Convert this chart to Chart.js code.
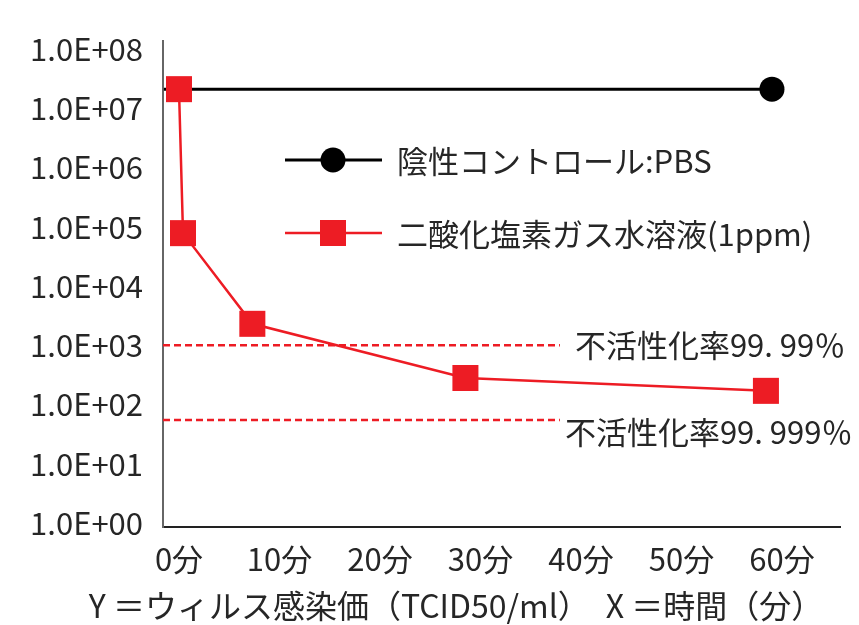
<!DOCTYPE html>
<html>
<head>
<meta charset="utf-8">
<script src="https://cdn.jsdelivr.net/npm/chart.js@4/dist/chart.umd.min.js"></script>
<style>
  body { margin: 0; background: #fff; }
  canvas { display: block; }
</style>
</head>
<body>
<canvas id="chart" width="859" height="625"></canvas>
<script>
// data
const timeTicks = [0, 10, 20, 30, 40, 50, 60];
const valueTicks = [1, 10, 100, 1e3, 1e4, 1e5, 1e6, 1e7, 1e8];

const pbsLabel = '陰性コントロール:PBS';
const pbsTime = [-1.5, 59];
const pbsValue = [2.1e7, 2.1e7];

const clo2Label = '二酸化塩素ガス水溶液(1ppm)';
const clo2Time = [0, 0.4, 7.3, 28.5, 58.4];
const clo2Value = [2.1e7, 7.8e4, 2.3e3, 280, 170];

const thresholdLabels = ['不活性化率99. 99％', '不活性化率99. 999％'];
const thresholdValues = [1000, 55];
const thresholdEnd = 37.9;

const axisTitle = 'Y ＝ウィルス感染価（TCID50/ml）　X ＝時間（分）';

const RED = '#ED1C24';
const TEXT = '#262626';
const FONT = '"Noto Sans CJK JP", "Noto Sans", sans-serif';

const toPoints = (xs, ys) => xs.map((x, i) => ({ x: x, y: ys[i] }));

// dashed threshold lines from the y axis to thresholdEnd
const thresholdSets = thresholdValues.map(v => ({
    data: [{ x: -1.59, y: v }, { x: thresholdEnd, y: v }],
    borderColor: RED,
    borderWidth: 2.5,
    borderDash: [7, 4],
    pointRadius: 0,
    fill: false
}));

// legend, threshold labels and the axis caption drawn on the canvas
const overlay = {
    id: 'overlay',
    afterDraw(chart) {
        const ctx = chart.ctx;
        const x = chart.scales.x;
        const y = chart.scales.y;
        ctx.save();
        ctx.font = '31px ' + FONT;
        ctx.fillStyle = TEXT;
        ctx.textBaseline = 'middle';

        // legend
        const items = [
            { label: pbsLabel, color: '#000', style: 'circle', yPos: 160 },
            { label: clo2Label, color: RED, style: 'rect', yPos: 233 }
        ];
        items.forEach(item => {
            ctx.strokeStyle = item.color;
            ctx.lineWidth = item.style === 'circle' ? 3 : 2.5;
            ctx.beginPath();
            ctx.moveTo(285, item.yPos);
            ctx.lineTo(382, item.yPos);
            ctx.stroke();
            ctx.fillStyle = item.color;
            ctx.beginPath();
            if (item.style === 'circle') {
                ctx.arc(333, item.yPos, 12.5, 0, Math.PI * 2);
            } else {
                ctx.rect(320, item.yPos - 13, 26, 26);
            }
            ctx.fill();
            ctx.fillStyle = TEXT;
            ctx.textAlign = 'left';
            ctx.fillText(item.label, 397, item.yPos + 1);
        });

        // threshold labels
        const endPx = x.getPixelForValue(thresholdEnd);
        ctx.fillText(thresholdLabels[0], endPx + 15, y.getPixelForValue(thresholdValues[0]));
        ctx.fillText(thresholdLabels[1], endPx + 5, y.getPixelForValue(thresholdValues[1]) + 12);

        // caption under the x axis
        ctx.font = '32px ' + FONT;
        ctx.textAlign = 'center';
        ctx.fillText(axisTitle, 456, 606);
        ctx.restore();
    }
};

new Chart(document.getElementById('chart'), {
    type: 'line',
    data: {
        datasets: [
            {
                label: clo2Label,
                data: toPoints(clo2Time, clo2Value),
                borderColor: RED,
                backgroundColor: RED,
                borderWidth: 2.5,
                pointStyle: 'rect',
                pointRadius: 18.4,
                pointBorderWidth: 0,
                fill: false
            },
            {
                label: pbsLabel,
                data: toPoints(pbsTime, pbsValue),
                borderColor: '#000',
                backgroundColor: '#000',
                borderWidth: 3,
                pointStyle: 'circle',
                pointRadius: [0, 12.5],
                pointBorderWidth: 0,
                fill: false
            },
            ...thresholdSets
        ]
    },
    options: {
        responsive: false,
        animation: false,
        events: [],
        layout: { padding: { top: 41, right: 19, left: 0, bottom: 0 } },
        scales: {
            x: {
                type: 'linear',
                min: -1.59,
                max: 65.77,
                afterBuildTicks: scale => { scale.ticks = timeTicks.map(v => ({ value: v })); },
                afterFit: scale => { scale.height = 98; },
                grid: { display: false, drawTicks: false },
                border: { color: '#222', width: 2 },
                ticks: {
                    padding: 14,
                    color: TEXT,
                    font: { family: FONT, size: 31 },
                    maxRotation: 0,
                    callback: v => v + '分'
                }
            },
            y: {
                type: 'logarithmic',
                min: 0.856,
                max: 1.365e8,
                afterBuildTicks: scale => { scale.ticks = valueTicks.map(v => ({ value: v })); },
                afterFit: scale => { scale.width = 163; },
                grid: { display: false, drawTicks: false },
                border: { color: '#666', width: 2 },
                ticks: {
                    padding: 20,
                    color: TEXT,
                    font: { family: FONT, size: 31 },
                    callback: v => '1.0E+0' + Math.round(Math.log10(v))
                }
            }
        },
        plugins: {
            legend: { display: false },
            tooltip: { enabled: false },
            title: { display: false }
        }
    },
    plugins: [overlay]
});
</script>
</body>
</html>
